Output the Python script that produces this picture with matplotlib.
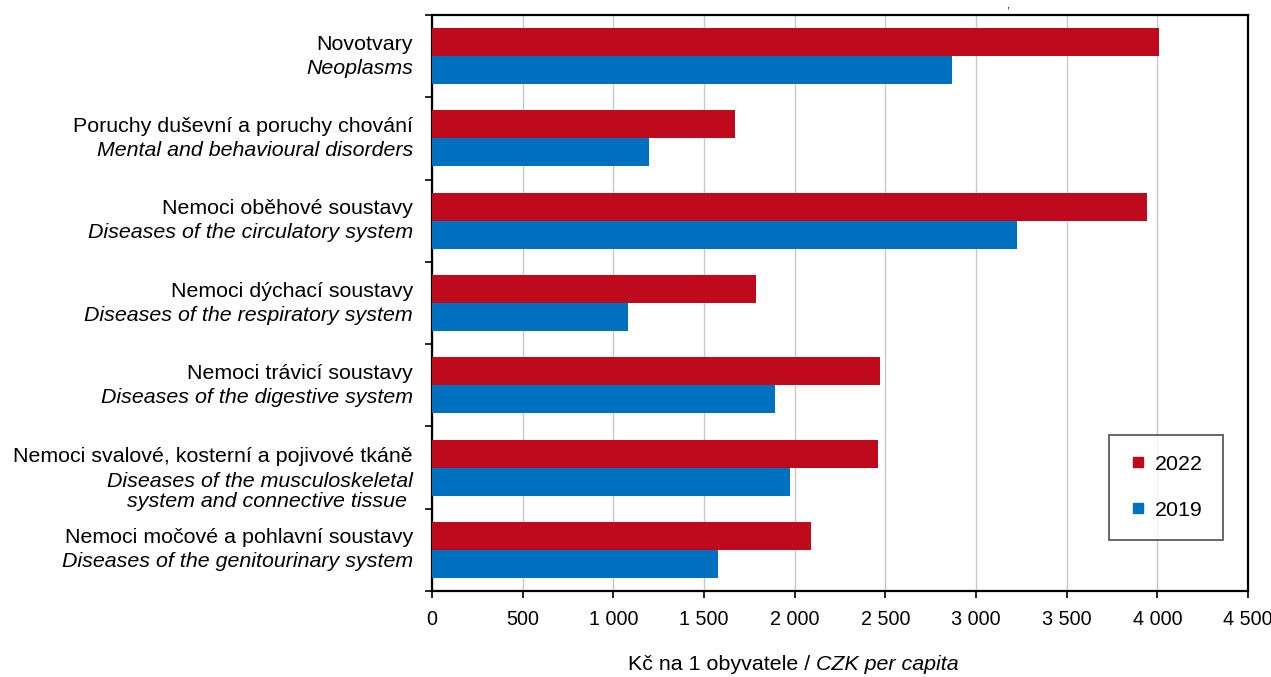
"""
Healthcare expenditure per capita by diagnosis group, 2019 vs 2022.
"""
import numpy as np
import matplotlib
import matplotlib.pyplot as plt
from matplotlib.lines import Line2D
from matplotlib.ticker import FuncFormatter

matplotlib.rcParams.update({"font.family": ["Liberation Sans", "DejaVu Sans"], "font.size": 15.4})

LABELS_CZ = [
    "Novotvary",
    "Poruchy duševní a poruchy chování",
    "Nemoci oběhové soustavy",
    "Nemoci dýchací soustavy",
    "Nemoci trávicí soustavy",
    "Nemoci svalové, kosterní a pojivové tkáně",
    "Nemoci močové a pohlavní soustavy",
]
LABELS_EN = [
    "Neoplasms",
    "Mental and behavioural disorders",
    "Diseases of the circulatory system",
    "Diseases of the respiratory system",
    "Diseases of the digestive system",
    "Diseases of the musculoskeletal\nsystem and connective tissue ",
    "Diseases of the genitourinary system",
]
VALUES_2022 = [4010, 1670, 3945, 1785, 2470, 2460, 2090]
VALUES_2019 = [2868, 1197, 3226, 1081, 1892, 1974, 1577]
XTICKS = [0, 500, 1000, 1500, 2000, 2500, 3000, 3500, 4000, 4500]

RED = "#BF0A1E"
BLUE = "#0070C0"


def thousands(v, _):
    return f"{int(v):,}".replace(",", " ")


fig = plt.figure(figsize=(12.71, 6.77), dpi=100)
ax = fig.add_axes([432 / 1271, 86 / 677, 816 / 1271, 576 / 677])

y = np.arange(len(LABELS_CZ))
h = 0.34
ax.barh(y - h / 2, VALUES_2022, height=h, color=RED, zorder=3)
ax.barh(y + h / 2, VALUES_2019, height=h, color=BLUE, zorder=3)

ax.set_xlim(0, 4500)
ax.set_ylim(len(LABELS_CZ) - 0.5, -0.5)
ax.set_xticks(XTICKS)
ax.xaxis.set_major_formatter(FuncFormatter(thousands))
ax.grid(axis="x", color="#C8C8C8", linewidth=1, zorder=0)
ax.set_yticks(np.arange(-0.5, len(LABELS_CZ), 1))
ax.set_yticklabels([])
ax.tick_params(axis="both", direction="out", length=5, width=1.2, color="black")
ax.tick_params(axis="x", pad=9, labelsize=14.2)
for s in ax.spines.values():
    s.set_linewidth(1.6)
    s.set_color("black")

for i, (cz, en) in enumerate(zip(LABELS_CZ, LABELS_EN)):
    n = en.count("\n") + 1
    shift = -1 if n > 1 else 0
    ax.annotate(cz, xy=(0, i), xycoords=("axes fraction", "data"),
                xytext=(-19, 12 + shift), textcoords="offset pixels",
                ha="right", va="center")
    ax.annotate(en, xy=(0, i), xycoords=("axes fraction", "data"),
                xytext=(-19, -12 - 11 * (n - 1) + shift), textcoords="offset pixels",
                ha="right", va="center", style="italic", ma="right",
                linespacing=1.02)

fig.text(816 / 1271, 1 - 665 / 677, "Kč na 1 obyvatele / ", ha="right", va="center")
fig.text(816 / 1271, 1 - 665 / 677, "CZK per capita", ha="left", va="center", style="italic")
fig.text(1008 / 1271, 1.0, ",", ha="center", va="top", fontsize=8)

handles = [
    Line2D([], [], marker="s", color=RED, linestyle="none", markersize=7),
    Line2D([], [], marker="s", color=BLUE, linestyle="none", markersize=7),
]
leg = ax.legend(handles, ["2022", "2019"], loc="center",
                bbox_to_anchor=(0.8995, 0.18), frameon=True, fancybox=False,
                labelspacing=1.25, borderpad=0.95, handletextpad=0.4,
                handlelength=0.8, borderaxespad=0)
leg.get_frame().set_edgecolor("#333333")
leg.get_frame().set_linewidth(1.3)

fig.savefig("out.png", dpi=100)
